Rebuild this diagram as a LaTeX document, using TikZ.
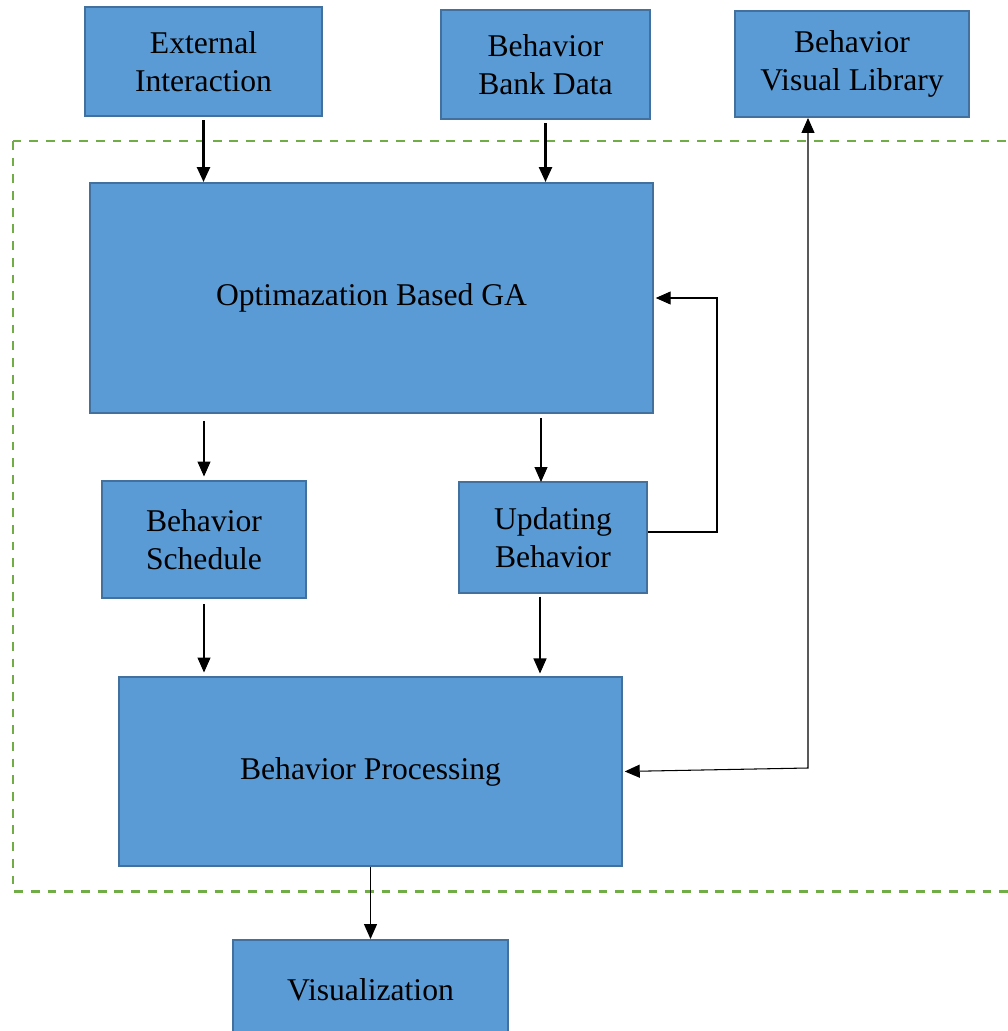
\documentclass[tikz,border=0pt]{standalone}
\usepackage{fontspec}
\setmainfont{Liberation Serif}
\usepackage{xcolor}
\usetikzlibrary{calc, arrows.meta, positioning}

\definecolor{boxblue}{HTML}{5B9BD5}
\definecolor{boxedge}{HTML}{41719C}
\definecolor{dashgreen}{HTML}{70AD47}

\begin{document}
\begin{tikzpicture}[
        box/.style={rectangle, draw=boxedge, line width=1.1pt, fill=boxblue, font=\fontsize{18}{21.5}\selectfont, align=center, inner sep=0pt},
        frame/.style={draw=dashgreen, line width=1.7pt, dash pattern=on 5pt off 4.5pt},
        arrow/.style={-{Triangle[length=3mm, width=2.6mm]}, line width=0.6pt},
        thickarrow/.style={-{Triangle[length=3mm, width=2.6mm]}, line width=1.4pt}
    ]
        \useasboundingbox (0,0) rectangle (20.16,-20.62);

        % Dashed frame
        \draw[frame] (0.26,-2.82) rectangle (20.4,-17.82);

        % Inputs
        \node[box, minimum width=4.74cm, minimum height=2.18cm] (ext) at (4.07,-1.23) {External\\Interaction};
        \node[box, minimum width=4.18cm, minimum height=2.18cm] (bank) at (10.91,-1.29) {Behavior\\Bank Data};
        \node[box, minimum width=4.68cm, minimum height=2.12cm] (vislib) at (17.04,-1.28) {Behavior\\Visual Library};

        % Inner blocks
        \node[box, minimum width=11.26cm, minimum height=4.6cm] (ga) at (7.43,-5.96) {Optimazation Based GA};
        \node[box, minimum width=4.08cm, minimum height=2.34cm] (sched) at (4.08,-10.79) {Behavior\\Schedule};
        \node[box, minimum width=3.76cm, minimum height=2.22cm] (upd) at (11.06,-10.75) {Updating\\Behavior};
        \node[box, minimum width=10.06cm, minimum height=3.78cm] (proc) at (7.41,-15.43) {Behavior Processing};

        % Output
        \node[box, minimum width=5.5cm, minimum height=2.0cm] (vis) at (7.41,-19.8) {Visualization};

        % Helper coordinates
        \coordinate (feed) at (14.34,-10.64);
        \coordinate (corner) at (16.16,-15.36);
        \coordinate (gaout) at (10.82,-8.26);
        \coordinate (updin) at (10.82,-9.64);
        \coordinate (updout) at (10.8,-11.86);
        \coordinate (procin) at (10.8,-13.54);

        % Arrows
        \draw[thickarrow, shorten <=2pt] (ext.south) -- (ext.south |- ga.north);
        \draw[thickarrow, shorten <=2pt] (bank.south) -- (bank.south |- ga.north);
        \draw[arrow, shorten <=4pt, shorten >=2pt] (ga.south -| sched.north) -- (sched.north);
        \draw[arrow, shorten <=3pt] (gaout) -- (updin);
        \draw[arrow, shorten <=3pt, shorten >=2pt] (sched.south) -- (sched.south |- proc.north);
        \draw[arrow, shorten <=2pt, shorten >=2pt] (updout) -- (procin);
        \draw[arrow, shorten >=1pt] (upd.east |- feed) -- (feed) |- (ga.east);
        \draw[{Triangle[length=3mm, width=2.6mm]}-{Triangle[length=3mm, width=2.6mm]}, line width=0.6pt, shorten <=1pt] (proc.east) -- (corner) -- (corner |- vislib.south);
        \draw[arrow] (proc.south) -- (vis.north);
    \end{tikzpicture}
\end{document}
